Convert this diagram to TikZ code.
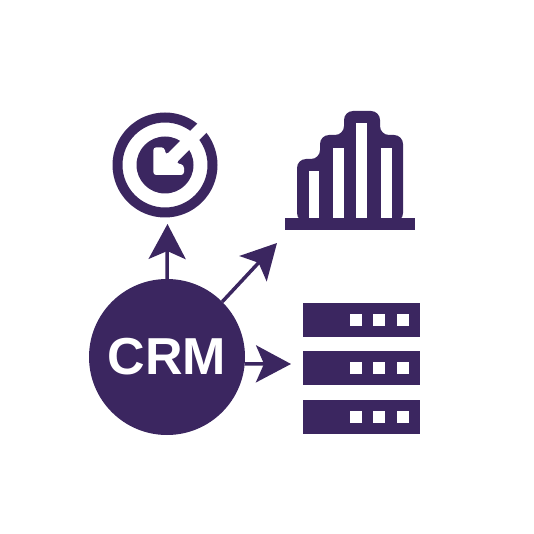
\documentclass[tikz,border=0pt]{standalone}
\usepackage{fontspec}
\setmainfont{Liberation Sans}
\usetikzlibrary{arrows.meta,positioning}
\definecolor{crmpurple}{RGB}{59,38,96}
\tikzstyle{hub}=[fill=crmpurple,circle,minimum size=156pt,inner sep=0pt,text=white,font=\fontsize{52}{52}\selectfont\bfseries]
\tikzstyle{rack}=[fill=crmpurple,rectangle,minimum width=117pt,minimum height=34pt,inner sep=0pt]
\tikzstyle{led}=[fill=white,rectangle,minimum size=12pt,inner sep=0pt]
\tikzstyle{link}=[crmpurple,line width=3.5pt,-{Stealth[length=35pt,width=37pt,inset=8pt]}]

\begin{document}
\begin{tikzpicture}[x=1pt,y=-1pt]
\useasboundingbox (0,0) rectangle (534,534);
\node [hub] (crm) at (167,357) {CRM};
\coordinate (goal) at (167.5,224);
\coordinate (chart) at (277,243);
\coordinate (store) at (291,364);
\draw [link] (crm.90) -- (goal);
\draw [link] (crm.45) -- (chart);
\draw [link] (crm.-5) -- (store);

\fill [crmpurple,even odd rule] (165,165) circle (52.5) (165,165) circle (42.5);
\fill [crmpurple] (165,165) circle (28.5);
\fill [white,rounded corners=3pt] (153.3,147.3) -- (164.3,147.3) -- (166,155) -- (215,106) -- (224,115) -- (176,163) -- (184,165) -- (184,175) -- (153.3,175) -- cycle;

\fill [crmpurple] (285,218) rectangle (415,230);
\fill [crmpurple,rounded corners=9pt] (297,222) -- (297,159) -- (320,159) -- (320,135) -- (344,135) -- (344,111) -- (380,111) -- (380,135) -- (403,135) -- (403,222) -- cycle;
\foreach \l/\r/\t in {309/319/171,333/344/148,356/367/123,381/392/148}
  \fill [white] (\l,\t) rectangle (\r,218);

\node [rack] (rack1) at (361.5,320) {};
\node [rack,below=14pt of rack1] (rack2) {};
\node [rack,below=14pt of rack2] (rack3) {};
\foreach \n in {1,2,3} {
  \node [led,xshift=-5.5pt] (led\n a) at (rack\n) {};
  \node [led,xshift=17.5pt] (led\n b) at (rack\n) {};
  \node [led,xshift=41.5pt] (led\n c) at (rack\n) {};
}
\end{tikzpicture}
\end{document}
